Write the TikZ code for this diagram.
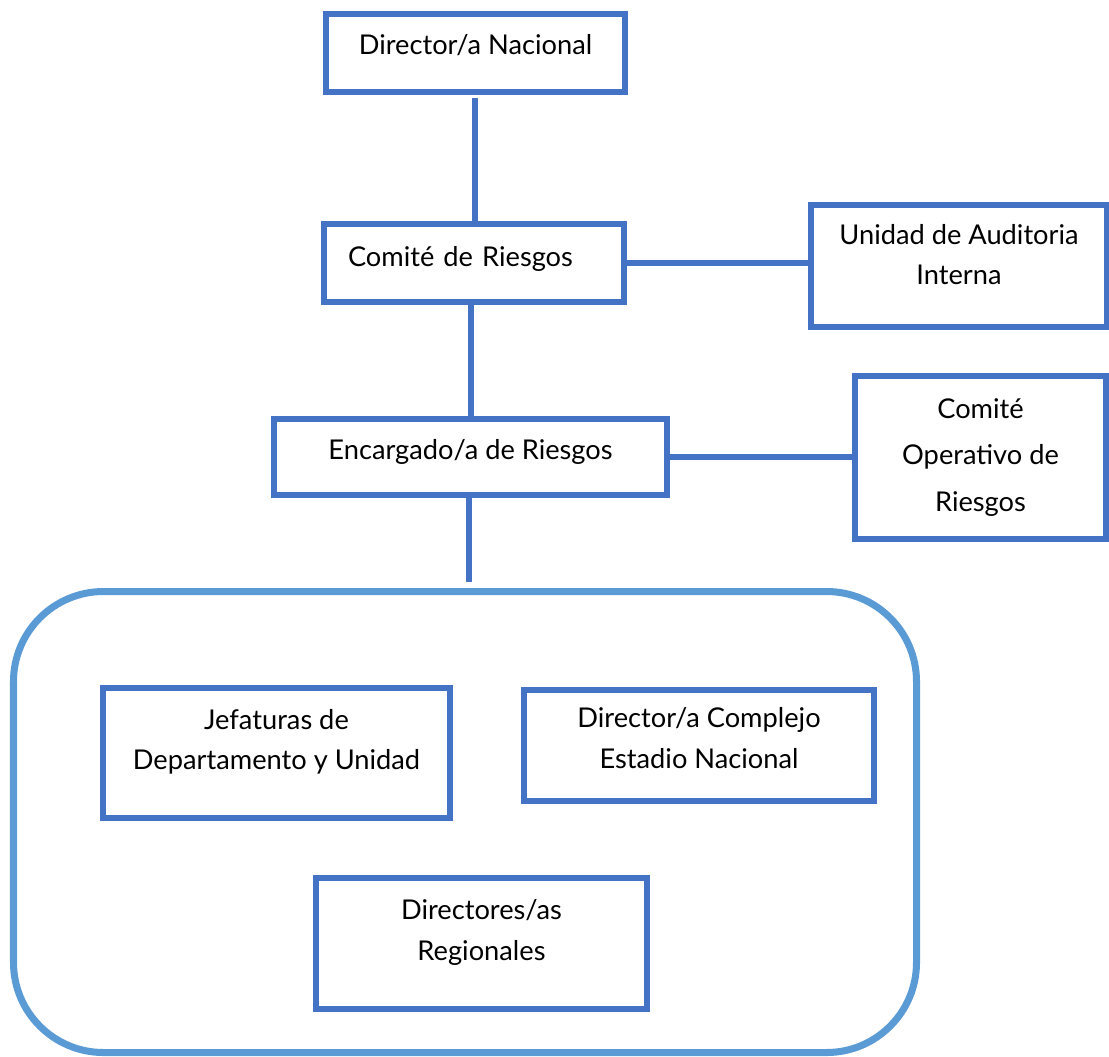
\documentclass[tikz,border=0pt]{standalone}
\usepackage{fontspec}
\setmainfont{Lato}
\definecolor{boxblue}{HTML}{4472C4}
\definecolor{groupblue}{HTML}{5B9BD5}
\begin{document}
\begin{tikzpicture}[
		unit/.style={draw=boxblue, line width=3.4pt, align=center, inner sep=0pt, font=\fontsize{15.5}{23}\selectfont},
		link/.style={draw=boxblue, line width=3.4pt}]
		\useasboundingbox (0,0) rectangle (22.18,-21.12);
		\clip (0,0) rectangle (22.18,-21.12);
		\node[unit, minimum width=5.98cm, minimum height=1.56cm, text depth=0.34cm] (nac) at (9.51,-1.06) {Director/a Nacional};
		\node[unit, text width=5.04cm, align=left, inner xsep=0.48cm, minimum height=1.56cm, text depth=0.26cm] (comite) at (9.48,-5.26) {Comité de Riesgos};
		\node[unit, minimum width=5.92cm, minimum height=2.44cm, text depth=0.46cm] (audit) at (19.18,-5.32) {Unidad de Auditoria\\Interna};
		\node[unit, minimum width=7.86cm, minimum height=1.52cm, text depth=0.3cm] (encarg) at (9.41,-9.14) {Encargado/a de Riesgos};
		\node[unit, minimum width=5.02cm, minimum height=3.26cm, font=\fontsize{15.5}{26.5}\selectfont] (operat) at (19.61,-9.15) {Comité\\Operativo de\\Riesgos};
		\draw[groupblue, line width=4pt, rounded corners=1.8cm] (0.27,-11.83) rectangle (18.33,-21.05);
		\node[unit, minimum width=6.94cm, minimum height=2.6cm, text depth=0.54cm] (jef) at (5.53,-15.06) {Jefaturas de\\Departamento y Unidad};
		\node[unit, minimum width=7.0cm, minimum height=2.22cm, text depth=0.3cm] (compl) at (13.98,-14.91) {Director/a Complejo\\Estadio Nacional};
		\node[unit, minimum width=6.62cm, minimum height=2.62cm, text depth=0.54cm] (reg) at (9.63,-18.87) {Directores/as\\Regionales};
		\coordinate (grp) at (9.38,-11.64);
		\draw[link] (nac.south -| 9.5,0) ++ (0,-0.06) -- (comite.north -| 9.5,0);
		\draw[link] (comite.east) -- (audit.west |- comite.east);
		\draw[link] (comite.south -| 9.42,0) -- (encarg.north -| 9.42,0);
		\draw[link] (encarg.east) -- (operat.west |- encarg.east);
		\draw[link] (encarg.south -| grp) -- (grp);
	\end{tikzpicture}
\end{document}
